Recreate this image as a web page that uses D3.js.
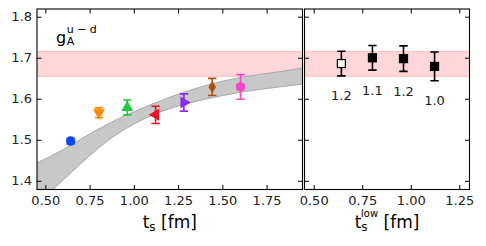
<!DOCTYPE html>
<html>
<head>
<meta charset="utf-8">
<script src="https://cdn.jsdelivr.net/npm/d3@7"></script>
<style>
  body { margin: 0; background: #fff; }
  svg { display: block; font-family: "DejaVu Sans", sans-serif; }
</style>
</head>
<body>
<div id="wrapper"></div>
<script>
// left panel: g_A vs t_s
const tsVals = [0.64, 0.80, 0.96, 1.12, 1.28, 1.44, 1.60];
const gVals = [1.498, 1.567, 1.580, 1.562, 1.592, 1.630, 1.630];
const gErrs = [0.007, 0.012, 0.018, 0.021, 0.021, 0.021, 0.030];
const pointColors = ["#0a46ff", "#ff8a00", "#22c93a", "#ee1028", "#8a2cf0", "#a8520c", "#f048c8"];
const pointShapes = ["circle", "down", "up", "left", "right", "diamond", "hex"];

// fit band
const bandX = [0.45, 0.60, 0.80, 1.00, 1.20, 1.40, 1.60, 1.80, 1.95];
const bandHi = [1.445, 1.478, 1.528, 1.570, 1.605, 1.633, 1.653, 1.666, 1.676];
const bandLo = [1.345, 1.404, 1.482, 1.540, 1.577, 1.600, 1.617, 1.629, 1.637];

// plateau band
const plateauLo = 1.656;
const plateauHi = 1.716;

// right panel: g_A vs t_s^low
const tlowVals = [0.64, 0.80, 0.96, 1.12];
const lowVals = [1.687, 1.701, 1.699, 1.680];
const lowErrs = [0.030, 0.030, 0.031, 0.035];
const lowLabels = ["1.2", "1.1", "1.2", "1.0"];
const lowOpen = [true, false, false, false];

const yTicks = [1.4, 1.5, 1.6, 1.7, 1.8];
const xTicksL = [0.50, 0.75, 1.00, 1.25, 1.50, 1.75];
const xTicksR = [0.50, 0.75, 1.00, 1.25];

const width = 486, height = 246;
const plotTop = 9, plotBottom = 189.5;
const left1 = 37, right1 = 302.5;
const left2 = 304.5, right2 = 469.5;

const svg = d3.select("#wrapper").append("svg")
    .attr("width", width)
    .attr("height", height);

const yScale = d3.scaleLinear().domain([1.38, 1.82]).range([plotBottom, plotTop]);
const xL = d3.scaleLinear().domain([0.45, 1.95]).range([left1, right1]);
const xR = d3.scaleLinear().domain([0.45, 1.3]).range([left2, right2]);

const defs = svg.append("defs");
defs.append("clipPath").attr("id", "clipL").append("rect")
    .attr("x", left1).attr("y", plotTop).attr("width", right1 - left1).attr("height", plotBottom - plotTop);
defs.append("clipPath").attr("id", "clipR").append("rect")
    .attr("x", left2).attr("y", plotTop).attr("width", right2 - left2).attr("height", plotBottom - plotTop);

function drawPlateau(g, x) {
    const [x0, x1] = x.range();
    g.append("rect")
        .attr("x", x0).attr("width", x1 - x0)
        .attr("y", yScale(plateauHi)).attr("height", yScale(plateauLo) - yScale(plateauHi))
        .attr("fill", "#ffd6da");
    [plateauLo, plateauHi].forEach(v => {
        g.append("line")
            .attr("x1", x0).attr("x2", x1)
            .attr("y1", yScale(v)).attr("y2", yScale(v))
            .attr("stroke", "#ffb8c0").attr("stroke-width", 1);
    });
}

const gL = svg.append("g").attr("clip-path", "url(#clipL)");
drawPlateau(gL, xL);

const bandData = bandX.map((x, i) => ({x: x, lo: bandLo[i], hi: bandHi[i]}));
gL.append("path")
    .datum(bandData)
    .attr("d", d3.area().x(d => xL(d.x)).y0(d => yScale(d.lo)).y1(d => yScale(d.hi)).curve(d3.curveNatural))
    .attr("fill", "#c8c8c8");
["lo", "hi"].forEach(k => {
    gL.append("path")
        .datum(bandData)
        .attr("d", d3.line().x(d => xL(d.x)).y(d => yScale(d[k])).curve(d3.curveNatural))
        .attr("fill", "none")
        .attr("stroke", "#a8a8a8")
        .attr("stroke-width", 1);
});

function markerPath(shape) {
    if (shape == "circle") return d3.symbol(d3.symbolCircle, 70)();
    if (shape == "hex") {
        const r = 5.2;
        const pts = d3.range(6).map(i => [r * Math.cos(Math.PI / 3 * i + Math.PI / 6), r * Math.sin(Math.PI / 3 * i + Math.PI / 6)]);
        return d3.line()(pts) + "Z";
    }
    if (shape == "diamond") return "M0,-6L3.8,0L0,6L-3.8,0Z";
    return d3.symbol(d3.symbolTriangle, 62)();
}
const rotation = {up: 0, down: 180, left: -90, right: 90};

function errBar(g, x, y, e, color) {
    const cap = 4.2;
    g.append("line").attr("x1", x).attr("x2", x)
        .attr("y1", yScale(y - e)).attr("y2", yScale(y + e))
        .attr("stroke", color).attr("stroke-width", 1.6);
    [y - e, y + e].forEach(v => {
        g.append("line").attr("x1", x - cap).attr("x2", x + cap)
            .attr("y1", yScale(v)).attr("y2", yScale(v))
            .attr("stroke", color).attr("stroke-width", 1.6);
    });
}

tsVals.forEach((t, i) => {
    const px = xL(t), py = yScale(gVals[i]);
    errBar(gL, px, gVals[i], gErrs[i], pointColors[i]);
    const shape = pointShapes[i];
    const rot = rotation[shape] || 0;
    gL.append("path")
        .attr("d", markerPath(shape))
        .attr("transform", `translate(${px},${py}) rotate(${rot})`)
        .attr("fill", pointColors[i]);
});

const gR = svg.append("g").attr("clip-path", "url(#clipR)");
drawPlateau(gR, xR);

tlowVals.forEach((t, i) => {
    const px = xR(t), py = yScale(lowVals[i]);
    errBar(gR, px, lowVals[i], lowErrs[i], "#000");
    gR.append("rect")
        .attr("x", px - 4).attr("y", py - 4)
        .attr("width", 8).attr("height", 8)
        .attr("fill", lowOpen[i] ? "#fff" : "#000")
        .attr("stroke", "#000").attr("stroke-width", 1.2);
    svg.append("text")
        .attr("x", px).attr("y", yScale(lowVals[i] - lowErrs[i]) + 21)
        .attr("text-anchor", "middle")
        .attr("dominant-baseline", "middle")
        .attr("font-size", "13px")
        .attr("fill", "#222")
        .text(lowLabels[i]);
});

// axes (ticks pointing inward)
function frame(x, xTicks, yLabels) {
    const [x0, x1] = x.range();
    const tl = 4.5;
    const g = svg.append("g");
    xTicks.forEach(t => {
        g.append("line").attr("x1", x(t)).attr("x2", x(t)).attr("y1", plotBottom).attr("y2", plotBottom - tl)
            .attr("stroke", "#000").attr("stroke-width", 1);
        g.append("line").attr("x1", x(t)).attr("x2", x(t)).attr("y1", plotTop).attr("y2", plotTop + tl)
            .attr("stroke", "#000").attr("stroke-width", 1);
        g.append("text").attr("x", x(t)).attr("y", plotBottom + 15)
            .attr("text-anchor", "middle").attr("font-size", "13px").attr("fill", "#222")
            .text(d3.format(".2f")(t));
    });
    yTicks.forEach(t => {
        g.append("line").attr("x1", x0).attr("x2", x0 + tl).attr("y1", yScale(t)).attr("y2", yScale(t))
            .attr("stroke", "#000").attr("stroke-width", 1);
        g.append("line").attr("x1", x1).attr("x2", x1 - tl).attr("y1", yScale(t)).attr("y2", yScale(t))
            .attr("stroke", "#000").attr("stroke-width", 1);
        if (yLabels) {
            g.append("text").attr("x", x0 - 5).attr("y", yScale(t))
                .attr("text-anchor", "end").attr("dominant-baseline", "middle")
                .attr("font-size", "13px").attr("fill", "#222")
                .text(d3.format(".1f")(t));
        }
    });
    g.append("rect").attr("x", x0).attr("y", plotTop).attr("width", x1 - x0).attr("height", plotBottom - plotTop)
        .attr("fill", "none").attr("stroke", "#000").attr("stroke-width", 1.1);
}
frame(xL, xTicksL, true);
frame(xR, xTicksR, false);

// labels
const gLabel = svg.append("text").attr("x", 56).attr("y", 42.5).attr("fill", "#000");
gLabel.append("tspan").attr("font-size", "16px").text("g");
gLabel.append("tspan").attr("font-size", "11px").attr("dx", 0.5).attr("dy", 2.5).text("A");
gLabel.append("tspan").attr("font-size", "11px").attr("dx", -7.5).attr("dy", -12.5).text("u − d");

const xLab1 = svg.append("text").attr("x", (left1 + right1) / 2).attr("y", 227.5)
    .attr("text-anchor", "middle").attr("fill", "#000").attr("font-size", "17px");
xLab1.append("tspan").text("t");
xLab1.append("tspan").attr("font-size", "12px").attr("dy", 3).text("s");
xLab1.append("tspan").attr("dy", -3).text(" [fm]");

const xLab2 = svg.append("text").attr("x", (left2 + right2) / 2).attr("y", 227.5)
    .attr("text-anchor", "middle").attr("fill", "#000").attr("font-size", "17px");
xLab2.append("tspan").text("t");
xLab2.append("tspan").attr("font-size", "12px").attr("dy", 3).text("s");
xLab2.append("tspan").attr("font-size", "10px").attr("dx", -6.5).attr("dy", -13.5).text("low");
xLab2.append("tspan").attr("dy", 10.5).text(" [fm]");
</script>
</body>
</html>
